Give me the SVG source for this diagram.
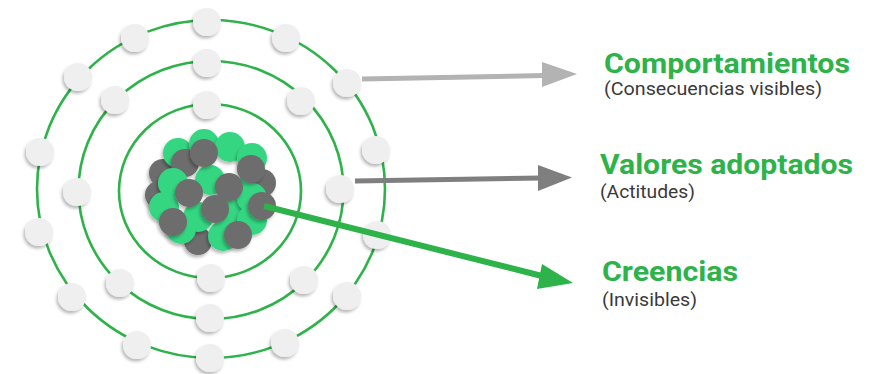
<svg xmlns="http://www.w3.org/2000/svg" width="874" height="374" viewBox="0 0 874 374">
  <defs>
    <filter id="shadow" x="-40%" y="-40%" width="180%" height="180%">
      <feDropShadow dx="-1.5" dy="2.5" stdDeviation="1.6" flood-color="#000" flood-opacity="0.28"/>
    </filter>
    <style>
      .ring { fill: none; stroke: #2eb24a; stroke-width: 2.6; }
      .e { fill: #efefef; filter: url(#shadow); }
      .g { fill: #35d682; filter: url(#shadow); }
      .k { fill: #6d6d6d; filter: url(#shadow); }
      .title { font-family: Roboto, "Liberation Sans", sans-serif; font-weight: 700; font-size: 27px; fill: #2eb24a; }
      .sub { font-family: Roboto, "Liberation Sans", sans-serif; font-size: 17.5px; fill: #3a3a3a; }
    </style>
  </defs>
  <rect width="874" height="374" fill="#ffffff"/>

  <!-- orbits -->
  <g id="orbits">
    <ellipse class="ring" cx="211" cy="189" rx="174" ry="169"/>
    <ellipse class="ring" cx="211" cy="190" rx="132.5" ry="129"/>
    <ellipse class="ring" cx="210" cy="191" rx="91" ry="87"/>
  </g>

  <!-- electrons -->
  <g id="electrons">
    <circle class="e" cx="207" cy="22" r="14"/>
    <circle class="e" cx="135" cy="38" r="14"/>
    <circle class="e" cx="286" cy="38" r="14"/>
    <circle class="e" cx="78" cy="77" r="14"/>
    <circle class="e" cx="347" cy="83" r="14"/>
    <circle class="e" cx="40" cy="152" r="14"/>
    <circle class="e" cx="376" cy="150" r="14"/>
    <circle class="e" cx="39" cy="232" r="14"/>
    <circle class="e" cx="377" cy="235" r="14"/>
    <circle class="e" cx="72" cy="297" r="14"/>
    <circle class="e" cx="347" cy="296" r="14"/>
    <circle class="e" cx="137" cy="345" r="14"/>
    <circle class="e" cx="285" cy="343" r="14"/>
    <circle class="e" cx="210" cy="358" r="14"/>

    <circle class="e" cx="207" cy="63" r="14"/>
    <circle class="e" cx="115" cy="100" r="14"/>
    <circle class="e" cx="301" cy="101" r="14"/>
    <circle class="e" cx="77" cy="192" r="14"/>
    <circle class="e" cx="340" cy="189" r="14"/>
    <circle class="e" cx="120" cy="283" r="14"/>
    <circle class="e" cx="304" cy="280" r="14"/>
    <circle class="e" cx="210" cy="318" r="14"/>

    <circle class="e" cx="207" cy="105" r="14"/>
    <circle class="e" cx="211" cy="278" r="14"/>
  </g>

  <!-- nucleus -->
  <g id="nucleus">
    <circle class="k" cx="163" cy="173" r="14"/>
    <circle class="k" cx="159" cy="195" r="14"/>
    <circle class="k" cx="262" cy="183" r="14"/>
    <circle class="k" cx="198" cy="241" r="14"/>
    <circle class="g" cx="178" cy="153" r="15"/>
    <circle class="g" cx="204" cy="144" r="15"/>
    <circle class="g" cx="230" cy="147" r="15"/>
    <circle class="g" cx="252" cy="158" r="15"/>
    <circle class="k" cx="185" cy="163" r="14"/>
    <circle class="g" cx="173" cy="183" r="15"/>
    <circle class="g" cx="210" cy="180" r="15"/>
    <circle class="g" cx="240" cy="193" r="15"/>
    <circle class="g" cx="164" cy="207" r="15"/>
    <circle class="g" cx="198" cy="217" r="15"/>
    <circle class="g" cx="230" cy="210" r="15"/>
    <circle class="g" cx="252" cy="198" r="15"/>
    <circle class="g" cx="252" cy="220" r="15"/>
    <circle class="g" cx="181" cy="229" r="15"/>
    <circle class="g" cx="223" cy="236" r="15"/>
    <circle class="k" cx="204" cy="153" r="14"/>
    <circle class="k" cx="251" cy="169" r="14"/>
    <circle class="k" cx="189" cy="193" r="14"/>
    <circle class="k" cx="229" cy="187" r="14"/>
    <circle class="k" cx="215" cy="209" r="14"/>
    <circle class="k" cx="173" cy="222" r="14"/>
    <circle class="k" cx="238" cy="235" r="14"/>
    <circle class="k" cx="262" cy="206" r="14"/>
  </g>

  <!-- connectors -->
  <g id="connectors">
    <line x1="362" y1="79" x2="545" y2="75.5" stroke="#b3b3b3" stroke-width="5"/>
    <polygon points="542,62 577,74 542,87" fill="#b3b3b3"/>
    <line x1="355" y1="181" x2="541" y2="178" stroke="#7f7f7f" stroke-width="5"/>
    <polygon points="538,165 572,177.5 538,191" fill="#7f7f7f"/>
    <line x1="264" y1="206" x2="542" y2="276" stroke="#2eb24a" stroke-width="6"/>
    <polygon points="542,264 573,283 537,289" fill="#2eb24a"/>
  </g>

  <!-- labels -->
  <g id="label-comportamientos">
    <text class="title" x="604" y="73" textLength="246" lengthAdjust="spacingAndGlyphs">Comportamientos</text>
    <text class="sub" x="604" y="95" textLength="218" lengthAdjust="spacingAndGlyphs">(Consecuencias visibles)</text>
  </g>
  <g id="label-valores">
    <text class="title" x="600" y="174" textLength="253" lengthAdjust="spacingAndGlyphs">Valores adoptados</text>
    <text class="sub" x="600" y="198" textLength="95" lengthAdjust="spacingAndGlyphs">(Actitudes)</text>
  </g>
  <g id="label-creencias">
    <text class="title" x="602" y="281" textLength="136" lengthAdjust="spacingAndGlyphs">Creencias</text>
    <text class="sub" x="602" y="306" textLength="95" lengthAdjust="spacingAndGlyphs">(Invisibles)</text>
  </g>
</svg>
